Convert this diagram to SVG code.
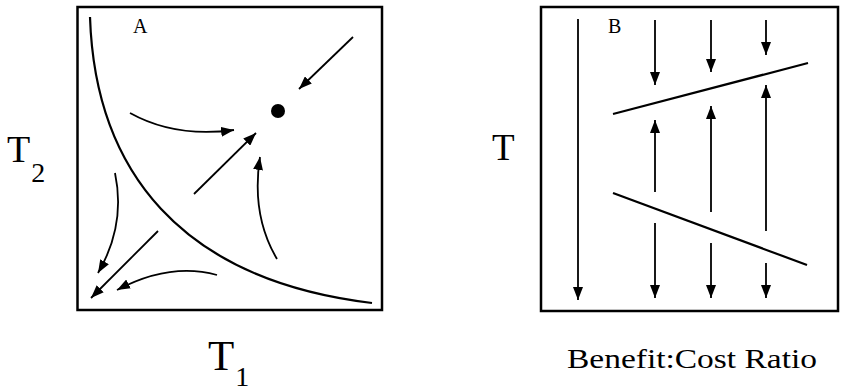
<svg xmlns="http://www.w3.org/2000/svg" width="841" height="391" viewBox="0 0 841 391">
<defs>
<marker id="ah" viewBox="0 0 13 10" refX="13" refY="5" markerWidth="13" markerHeight="10" orient="auto" markerUnits="userSpaceOnUse">
<path d="M0,0 L13,5 L0,10 Z" fill="#000"/>
</marker>
</defs>
<style>
.box{fill:none;stroke:#000;stroke-width:2.5}
.ln{fill:none;stroke:#000;stroke-width:2.2}
.ar{fill:none;stroke:#000;stroke-width:1.8;marker-end:url(#ah)}
text{font-family:'Times New Roman','Liberation Serif',serif;fill:#000}
</style>
<rect width="841" height="391" fill="#fff"/>

<g id="panelA">
<rect class="box" x="77.5" y="7" width="304.5" height="303"/>
<text x="133" y="33" font-size="20">A</text>
<path class="ln" d="M90,17 C95,170 180,280 372,303"/>
<circle cx="278" cy="111" r="7" fill="#000"/>
</g>

<g id="panelB">
<rect class="box" x="541" y="7" width="297" height="304"/>
<text x="608" y="33" font-size="20">B</text>
<line class="ln" x1="613" y1="114" x2="808" y2="63"/>
<line class="ln" x1="613" y1="193" x2="807" y2="265"/>
</g>

<g id="labels">
<text x="7" y="162" font-size="38">T<tspan font-size="28" dx="1" dy="20">2</tspan></text>
<text x="208" y="370" font-size="43">T<tspan font-size="28" dx="1" dy="16">1</tspan></text>
<text x="492" y="160" font-size="37">T</text>
<text x="567" y="368" font-size="28" textLength="250" lengthAdjust="spacingAndGlyphs">Benefit:Cost Ratio</text>
</g>

<g id="connectors">
<path class="ar" d="M353,37 L299,89"/>
<path class="ar" d="M130,113 Q175,138 234,130"/>
<path class="ar" d="M194,194 L256,133"/>
<path class="ar" d="M277,259 Q251,215 260,157"/>
<path class="ar" d="M115,173 Q126,225 98,273"/>
<path class="ar" d="M158,231 L91,298"/>
<path class="ar" d="M217,275 Q170,262 117,290"/>

<path class="ar" d="M578,19 L578,300"/>
<path class="ar" d="M655,20 L655,85"/>
<path class="ar" d="M711,20 L711,72"/>
<path class="ar" d="M766,20 L766,55"/>
<path class="ar" d="M655,192 L655,120"/>
<path class="ar" d="M711,212 L711,106"/>
<path class="ar" d="M766,231 L766,85"/>
<path class="ar" d="M655,223 L655,298"/>
<path class="ar" d="M711,243 L711,298"/>
<path class="ar" d="M766,263 L766,298"/>
</g>
</svg>
